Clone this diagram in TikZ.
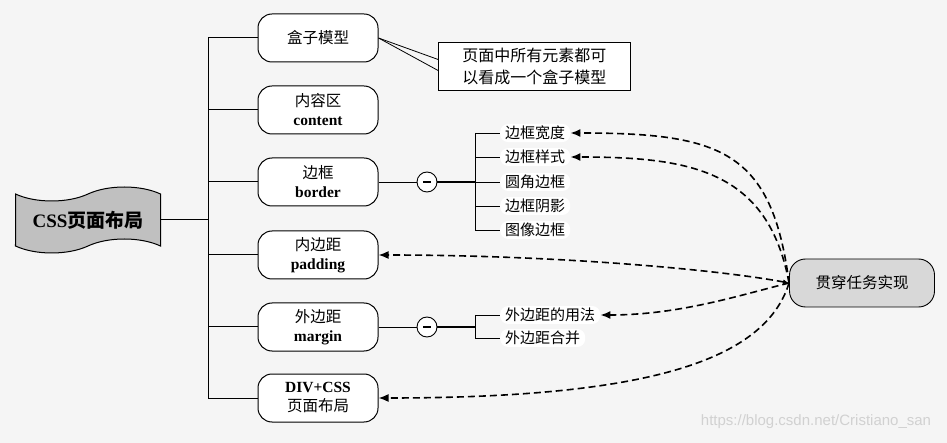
\documentclass[tikz,border=0pt]{standalone}
\usepackage{fontspec}
\setmainfont{Liberation Serif}
\newfontfamily\cjk{Noto Sans CJK SC}
\newfontfamily\wmfont{Liberation Sans}
\usetikzlibrary{shapes.symbols,arrows.meta}

\definecolor{bgcol}{RGB}{245,245,245}
\definecolor{rootcol}{RGB}{192,192,192}
\definecolor{taskcol}{RGB}{216,216,216}

\tikzset{
  topicbox/.style = {draw, fill=white, line width=1pt, rounded corners=14pt,
                     minimum width=120pt, minimum height=48pt, align=center,
                     inner sep=2pt, font=\fontsize{15.5}{19}\selectfont},
  subitem/.style = {fill=white, rounded corners=8pt, inner xsep=5pt,
                    inner ysep=2pt, anchor=west, font=\cjk\fontsize{15}{18}\selectfont},
  minusbox/.style = {draw, fill=white, circle, minimum size=20pt, inner sep=0pt,
                     line width=0.9pt,
                     path picture={\draw[line width=2.6pt]
                       ([xshift=-4pt]path picture bounding box.center) --
                       ([xshift=4pt]path picture bounding box.center);}},
  relation/.style = {dash pattern=on 7pt off 4pt, line width=1.6pt,
                     -{Latex[length=10pt,width=8pt]}},
}

\begin{document}
\begin{tikzpicture}[x=1pt,y=-1pt]
  \fill[bgcol] (0,0) rectangle (947,443);
  \useasboundingbox (0,0) rectangle (947,443);

  % root
  \node[tape, draw, fill=rootcol, line width=1pt, minimum width=145pt,
        minimum height=66pt, tape bend height=14pt,
        font=\bfseries\fontsize{19}{22}\selectfont] (css) at (88,220)
        {CSS{\cjk 页面布局}};

  % topics
  \node[topicbox] (box) at (318,38)  {\cjk 盒子模型};
  \node[topicbox] (content) at (318,110) {{\cjk 内容区}\\\textbf{content}};
  \node[topicbox] (border)  at (318,182) {{\cjk 边框}\\\textbf{border}};
  \node[topicbox] (padding) at (318,255) {{\cjk 内边距}\\\textbf{padding}};
  \node[topicbox] (margin)  at (318,327) {{\cjk 外边距}\\\textbf{margin}};
  \node[topicbox] (divcss)  at (318,398) {\textbf{DIV+CSS}\\{\cjk 页面布局}};

  \coordinate (trunk) at (208,220);
  \draw[line width=1pt] (css.east) -- (trunk);
  \draw[line width=1pt] (trunk |- box) -- (trunk |- divcss);
  \foreach \t in {box,content,border,padding,margin,divcss}
    \draw[line width=1pt] (trunk |- \t) -- (\t.west);

  % note
  \node[draw, fill=white, line width=0.9pt, anchor=north west, minimum width=192pt,
        minimum height=48pt, align=left, inner xsep=5pt,
        font=\cjk\fontsize{16}{22}\selectfont] (note) at (438,42)
        {页面中所有元素都可\\以看成一个盒子模型};
  \draw[line width=0.8pt] (box.east) -- ([yshift=7pt]note.west);
  \draw[line width=0.8pt] (box.east) -- ([yshift=-4pt]note.west);

  % border
  \node[minusbox] (bminus) at (427,182) {};
  \coordinate (bfork) at (475,182);
  \node[subitem] (bw) at (500,133) {边框宽度};
  \node[subitem] (bs) at (500,157) {边框样式};
  \node[subitem] (br) at (500,182) {圆角边框};
  \node[subitem] (bh) at (500,206) {边框阴影};
  \node[subitem] (bi) at (500,230) {图像边框};
  \draw[line width=0.9pt] (border.east) -- (bminus.west);
  \draw[line width=2pt] (bminus.east) -- (bfork);
  \draw[line width=0.9pt] (bfork |- bw) -- (bfork |- bi);
  \foreach \s in {bw,bs,br,bh,bi}
    \draw[line width=0.9pt] (bfork |- \s) -- (\s.west);

  % margin
  \node[minusbox] (mminus) at (427,327) {};
  \coordinate (mfork) at (475,327);
  \node[subitem] (mu) at (500,315) {外边距的用法};
  \node[subitem] (mc) at (500,338) {外边距合并};
  \draw[line width=0.9pt] (margin.east) -- (mminus.west);
  \draw[line width=1.4pt] (mminus.east) -- (mfork);
  \draw[line width=0.9pt] (mfork |- mu) -- (mfork |- mc);
  \foreach \s in {mu,mc}
    \draw[line width=0.9pt] (mfork |- \s) -- (\s.west);

  % task
  \node[draw, fill=taskcol, line width=0.9pt, rounded corners=16pt,
        minimum width=145pt, minimum height=48pt,
        font=\cjk\fontsize{15.5}{18}\selectfont] (task) at (862,283) {贯穿任务实现};

  \draw[relation] (task.west) .. controls (772,150) and (720,133) .. (bw.east);
  \draw[relation] (task.west) .. controls (768,170) and (690,157) .. (bs.east);
  \draw[relation, {Latex[length=6pt,width=5pt]}-{Latex[length=10pt,width=8pt]}]
    (task.west) .. controls (720,270) and (560,255) .. (padding.east);
  \draw[relation] (task.west) .. controls (740,295) and (680,315) .. (mu.east);
  \draw[relation] (task.west) .. controls (765,360) and (650,398) .. (divcss.east);

  % watermark
  \node[text=black!18, font=\wmfont\fontsize{15}{15}\selectfont] (wm) at (816,422)
    {https://blog.csdn.net/Cristiano\_san};
\end{tikzpicture}
\end{document}
